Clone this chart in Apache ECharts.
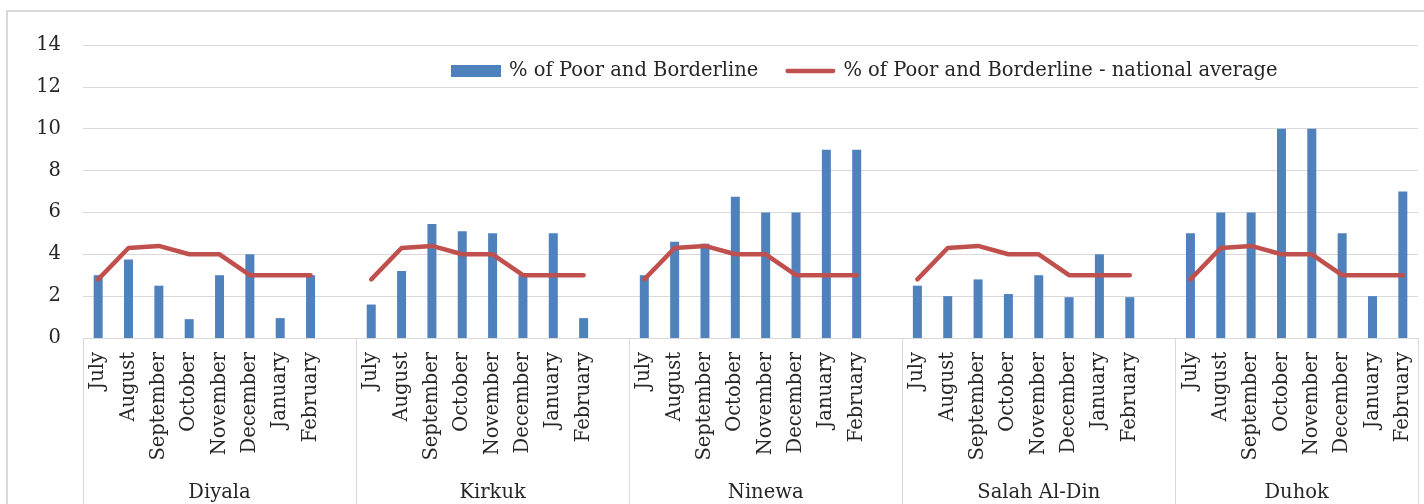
<!DOCTYPE html>
<html>
<head>
<meta charset="utf-8">
<script src="https://cdn.jsdelivr.net/npm/echarts@6/dist/echarts.min.js"></script>
<style>
html,body{margin:0;padding:0;background:#fff;}
#chart{width:1424px;height:504px;}
</style>
</head>
<body>
<div id="chart"></div>
<script>
// ---- data ----
var months = ['July','August','September','October','November','December','January','February'];
var groups = ['Diyala','Kirkuk','Ninewa','Salah Al-Din','Duhok'];
var diyala  = [3, 3.75, 2.5, 0.9, 3, 4, 0.95, 3];
var kirkuk  = [1.6, 3.2, 5.45, 5.1, 5, 3, 5, 0.95];
var ninewa  = [3, 4.6, 4.5, 6.75, 6, 6, 9, 9];
var salah   = [2.5, 2, 2.8, 2.1, 3, 1.95, 4, 1.95];
var duhok   = [5, 6, 6, 10, 10, 5, 2, 7];
var nationalAverage = [2.8, 4.3, 4.4, 4, 4, 3, 3, 3];
var yTicks = [0, 2, 4, 6, 8, 10, 12, 14];
var seriesNames = ['% of Poor and Borderline', '% of Poor and Borderline - national average'];

// ---- build flat category layout (blank slot after each group except last) ----
var groupValues = [diyala, kirkuk, ninewa, salah, duhok];
var categories = [], barData = [], lineData = [];
var boundaries = [], groupCenters = {};
groupValues.forEach(function (vals, g) {
  var start = categories.length;
  boundaries.push(start);
  months.forEach(function (m, i) {
    categories.push(m);
    barData.push(vals[i]);
    lineData.push(nationalAverage[i]);
  });
  if (g < groupValues.length - 1) {
    categories.push('');
    barData.push(null);
    lineData.push(null);
  }
  var len = categories.length - start;
  groupCenters[String(start + len / 2)] = groups[g];
});

var FONT = 'DejaVu Serif';
var FS = 19.5;
var TXT = '#262626';
var GRID = '#d9d9d9';
var BAR = '#4f81bd';
var LINE = '#c0504d';

var chart = echarts.init(document.getElementById('chart'));
chart.setOption({
  animation: false,
  backgroundColor: '#fff',
  graphic: [{
    type: 'rect', silent: true, z: -10,
    shape: {x: 7, y: 11, width: 1600, height: 700},
    style: {fill: 'none', stroke: GRID, lineWidth: 2}
  }],
  legend: {
    left: 451, top: 61, padding: 0,
    itemWidth: 50, itemHeight: 12, itemGap: 27,
    textStyle: {fontFamily: FONT, fontSize: FS, color: TXT, padding: [0, 0, 0, 3]},
    data: [
      {name: seriesNames[0], icon: 'rect', itemStyle: {color: BAR}},
      {name: seriesNames[1], icon: 'path://M2,0 L98,0 A4.5,4.5 0 0 1 98,9 L2,9 A4.5,4.5 0 0 1 2,0 Z',
       itemStyle: {color: LINE, borderWidth: 0}}
    ]
  },
  grid: {left: 83, right: 6, top: 45, bottom: 166, containLabel: false},
  xAxis: [{
    type: 'category',
    data: categories,
    boundaryGap: true,
    axisLine: {show: true, lineStyle: {color: GRID, width: 1}},
    axisTick: {
      show: true, length: 175, alignWithLabel: false,
      interval: function (idx) { return boundaries.indexOf(idx) >= 0; },
      lineStyle: {color: GRID, width: 1}
    },
    axisLabel: {
      interval: 0, rotate: 90, margin: 14,
      fontFamily: FONT, fontSize: FS, color: TXT
    },
    splitLine: {show: false}
  }, {
    type: 'value',
    position: 'bottom',
    min: 0, max: categories.length, interval: 0.5,
    axisLine: {show: false}, axisTick: {show: false}, splitLine: {show: false},
    axisLabel: {
      margin: 145, fontFamily: FONT, fontSize: FS, color: TXT,
      showMinLabel: true, showMaxLabel: true,
      formatter: function (v) { return groupCenters[String(v)] || ''; }
    }
  }],
  yAxis: {
    type: 'value', min: yTicks[0], max: yTicks[yTicks.length - 1], interval: 2,
    axisLine: {show: false}, axisTick: {show: false},
    axisLabel: {margin: 22, fontFamily: FONT, fontSize: FS, color: TXT},
    splitLine: {show: true, lineStyle: {color: GRID, width: 1}}
  },
  series: [{
    name: seriesNames[0],
    type: 'bar',
    data: barData,
    barWidth: 9,
    itemStyle: {color: BAR}
  }, {
    name: seriesNames[1],
    type: 'line',
    data: lineData,
    symbol: 'none',
    connectNulls: false,
    lineStyle: {color: LINE, width: 4.5, cap: 'round', join: 'round'},
    itemStyle: {color: LINE}
  }]
});
</script>
</body>
</html>
